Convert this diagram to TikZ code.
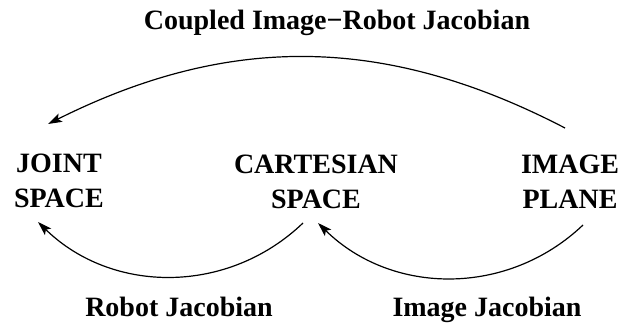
\documentclass[tikz,border=0pt]{standalone}
\usepackage{fontspec}
\setmainfont{Liberation Serif}
\usetikzlibrary{arrows.meta}
\begin{document}
\begin{tikzpicture}[x=1pt,y=1pt,
  lbl/.style={font=\bfseries\fontsize{28}{35}\selectfont, inner sep=0pt},
  space/.style={lbl, align=center, anchor=base},
  link/.style={line width=1.2pt, -{Stealth[length=14pt,width=9pt,inset=3pt]}}]
  \useasboundingbox (0,0) rectangle (618,322);
  % spaces (base anchor sits on the second line)
  \node[space] (joint) at (59,115) {JOINT\\SPACE};
  \node[space] (cart)  at (316,114) {CARTESIAN\\SPACE};
  \node[space] (img)   at (570,114) {IMAGE\\PLANE};
  % labels of the mappings
  \node[lbl, anchor=base] (coupled) at (337,292) {Coupled Image−Robot Jacobian};
  \node[lbl, anchor=base] (robot) at (179,6) {Robot Jacobian};
  \node[lbl, anchor=base] (imagej) at (487,6) {Image Jacobian};
  % arc end points
  \coordinate (r1) at (303,99);
  \coordinate (r2) at (38,100);
  \coordinate (i1) at (583,97);
  \coordinate (i2) at (318,99);
  \coordinate (t1) at (565,194);
  \coordinate (t2) at (48,198);
  \draw[link] (r1) to[bend left=44] (r2);
  \draw[link] (i1) to[bend left=44] (i2);
  \draw[link] (t1) to[bend right=27] (t2);
\end{tikzpicture}
\end{document}
